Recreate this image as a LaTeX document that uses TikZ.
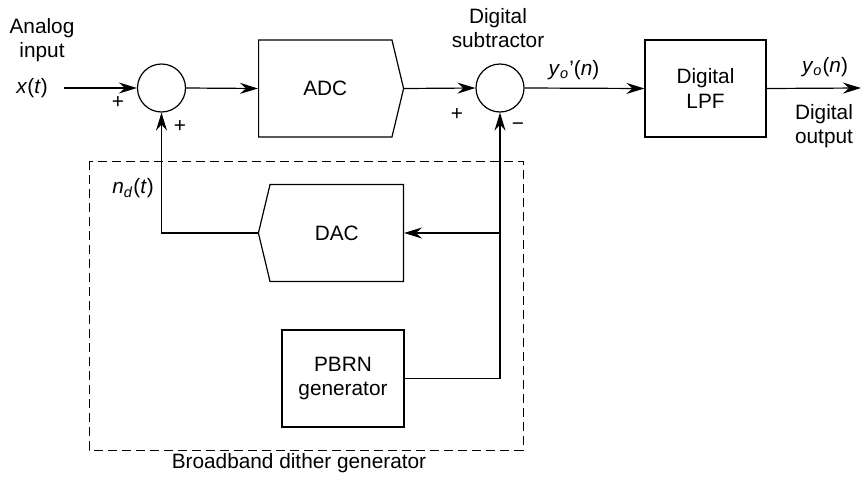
\documentclass[tikz,border=0pt]{standalone}
\usepackage{fontspec}
\setmainfont{Liberation Sans}
\usetikzlibrary{arrows.meta}
\usetikzlibrary{shapes.symbols}
\usetikzlibrary{scopes}

\begin{document}
\begin{tikzpicture}[x=0.5pt,y=-0.5pt,line width=0.6pt,
		font=\fontsize{10.4}{12.2}\selectfont,
		>={Stealth[length=9pt,width=5.5pt,inset=3pt]},
		summer/.style={draw,circle,minimum size=24pt,inner sep=0pt},
		block/.style={draw,rectangle,minimum width=61pt,minimum height=48.5pt,align=center,inner sep=0pt},
		converter/.style={draw,signal,signal from=nowhere,signal pointer angle=153,
			minimum width=72.5pt,minimum height=48.5pt,inner sep=0pt},
		lbl/.style={align=center,inner sep=0pt}]
			\useasboundingbox (0,0) rectangle (862,477);
		%% blocks on the main path
			\node[summer] (sum) at (161.5,88) {};
			\node[converter,signal to=east,anchor=west] (adc) at (258,88.5) {ADC};
			\node[summer] (sub) at (500,88) {};
			\node[block,minimum width=60.5pt] (lpf) at (705.5,88.5) {Digital\\LPF};
		%% dither generator
			\node[converter,signal to=west,anchor=east] (dac) at (404,233) {DAC};
			\node[block] (pbrn) at (343,378.5) {PBRN\\generator};
			\draw[dashed,dash pattern=on 4.5pt off 2.5pt,line width=0.5pt]
				(89,161) rectangle (523,450);
			\coordinate (in) at (64,88);
			\coordinate (out) at (861,88);
			\coordinate (tap) at (sub.south |- dac.east);
		%% connectors
			\draw[->] (in) -- (sum.west);
			\draw[->] (sum.east) -- (adc.west);
			\draw[->] (adc.east) -- (sub.west);
			\draw[->] (sub.east) -- (lpf.west);
			\draw[->] (lpf.east) -- (out);
			\draw[->] (dac.west) -| (sum.south);
			\draw[->] (pbrn.east) -| (sub.south);
			\draw[->] (tap) -- (dac.east);
		%% labels
			\node[lbl] (ain) at (42,40) {Analog\\input};
			\node[lbl] (xt) at (32,88) {\textit{x}(\textit{t})};
			\node[lbl] (p1) at (118,102) {+};
			\node[lbl] (p2) at (180,126) {+};
			\node[lbl] (subl) at (498,28) {Digital\\subtractor};
			\node[lbl] (p3) at (457,114) {+};
			\node[lbl] (m1) at (518,127) {−};
			\node[lbl] (yop) at (574,70) {\textit{y}\textsubscript{\textit{o}}’(\textit{n})};
			\node[lbl] (yo) at (825,67) {\textit{y}\textsubscript{\textit{o}}(\textit{n})};
			\node[lbl] (dout) at (824,126) {Digital\\output};
			\node[lbl] (nd) at (133,188) {\textit{n}\textsubscript{\textit{d}}(\textit{t})};
			\node[lbl] (bdg) at (299,463) {Broadband dither generator};
		\end{tikzpicture}
\end{document}
